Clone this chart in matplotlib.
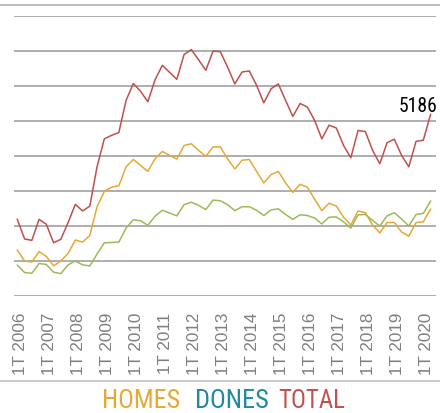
import matplotlib
matplotlib.use('Agg')
import matplotlib.pyplot as plt
from matplotlib import font_manager
from matplotlib.font_manager import FontProperties
from matplotlib.lines import Line2D

# quarterly series, 1T 2006 .. 2T 2020
years = list(range(2006, 2021))
tick_labels = ['1T %d' % y for y in years]

homes = [1310, 1000, 970, 1270, 1130, 860, 1000, 1220, 1600, 1540,
         1730, 2550, 2990, 3110, 3150, 3690, 3900, 3730, 3560, 3920,
         4130, 4020, 3910, 4300, 4350, 4160, 3990, 4260, 4260, 3920,
         3630, 3880, 3900, 3560, 3230, 3470, 3560, 3230, 2960, 3190,
         3110, 2770, 2440, 2650, 2570, 2250, 2030, 2430, 2380, 2030,
         1800, 2100, 2100, 1830, 1710, 2100, 2120, 2480]

dones = [880, 670, 650, 930, 900, 680, 640, 890, 1000, 890,
         860, 1200, 1520, 1530, 1540, 1940, 2180, 2150, 2020, 2280,
         2450, 2370, 2290, 2610, 2680, 2590, 2470, 2740, 2720, 2610,
         2440, 2550, 2550, 2450, 2300, 2460, 2490, 2330, 2190, 2320,
         2300, 2230, 2060, 2250, 2260, 2120, 1940, 2320, 2330, 2160,
         2000, 2290, 2380, 2200, 2000, 2330, 2360, 2710]

total = [2190, 1630, 1590, 2190, 2050, 1520, 1620, 2100, 2620, 2430,
         2570, 3700, 4490, 4590, 4670, 5590, 6070, 5850, 5550, 6180,
         6590, 6390, 6190, 6900, 7040, 6750, 6450, 7000, 6980, 6540,
         6060, 6400, 6430, 6020, 5520, 5920, 6060, 5590, 5130, 5500,
         5400, 5020, 4490, 4880, 4800, 4300, 3950, 4730, 4700, 4160,
         3780, 4380, 4480, 4020, 3690, 4420, 4450, 5186]

c_homes = '#E6A935'
c_dones = '#9BBB59'
c_total = '#C0504D'
c_dones_txt = '#2189A0'


def narrow_font():
    # prefer a narrow sans; fall back to any condensed face, then plain
    fonts = font_manager.fontManager.ttflist
    for want in ('Liberation Sans Narrow', 'Arial Narrow', 'Roboto Condensed',
                 'Open Sans Condensed', 'DejaVu Sans Condensed'):
        for f in fonts:
            if f.name == want and f.weight in (400, 'normal', 'regular') and f.style == 'normal':
                return FontProperties(fname=f.fname)
    for f in fonts:
        if str(f.stretch) in ('condensed', 'semi-condensed', '600', '700', '300', '400') \
                and f.style == 'normal' and f.weight in (400, 'normal', 'regular') \
                and ('Condensed' in f.fname or 'Narrow' in f.fname):
            return FontProperties(fname=f.fname)
    return FontProperties(family='Liberation Sans')


W, H = 440, 413
fig = plt.figure(figsize=(W/100, H/100), dpi=100)
ax = fig.add_axes([14/W, 1-296/H, 422/W, 280/H])

x = list(range(len(total)))
ax.plot(x, homes, color=c_homes, lw=1.1)
ax.plot(x, dones, color=c_dones, lw=1.1)
ax.plot(x, total, color=c_total, lw=1.1)

ax.set_xlim(-0.46, 57.75)
ax.set_ylim(0, 8000)
ax.set_yticks(range(0, 8001, 1000))
ax.yaxis.grid(True, color='#a8a8a8', lw=1.3)
ax.set_axisbelow(True)
ax.tick_params(axis='y', length=0, labelleft=False)
for s in ax.spines.values():
    s.set_visible(False)

ax.set_xticks([i + 0.4 for i in range(0, len(total), 4)])
ax.set_xticklabels(tick_labels, rotation=90, fontsize=12.3, color='#7f7f7f',
                   family='Liberation Sans', va='top', ha='center')
ax.tick_params(axis='x', length=0, pad=12)

nf = narrow_font()
renderer = fig.canvas.get_renderer()


def fit_text(t, width_px, max_size):
    # shrink a text until it spans the wanted width
    t.set_fontsize(max_size)
    w = t.get_window_extent(renderer).width
    if w > width_px:
        t.set_fontsize(max_size * width_px / w)


lab = ax.annotate(str(total[-1]), (x[-1], total[-1]), xytext=(7, 2),
                  textcoords='offset pixels', ha='right', va='baseline',
                  fontproperties=nf, color='black')
fit_text(lab, 39, 15)

# separator lines across the figure
fig.add_artist(Line2D([0, 1], [1-5/H, 1-5/H], color='#b0b0b0', lw=1.2))
fig.add_artist(Line2D([0, 1], [1-381/H, 1-381/H], color='#c0c0c0', lw=1.2))

ly = 1-408/H
for name, xc, col, wpx in (('HOMES', 141, c_homes, 78),
                            ('DONES', 232, c_dones_txt, 78),
                            ('TOTAL', 312, c_total, 67)):
    t = fig.text(xc/W, ly, name, color=col, fontproperties=nf,
                 ha='center', va='baseline')
    fit_text(t, wpx, 19)

fig.savefig('out.png', dpi=100)
